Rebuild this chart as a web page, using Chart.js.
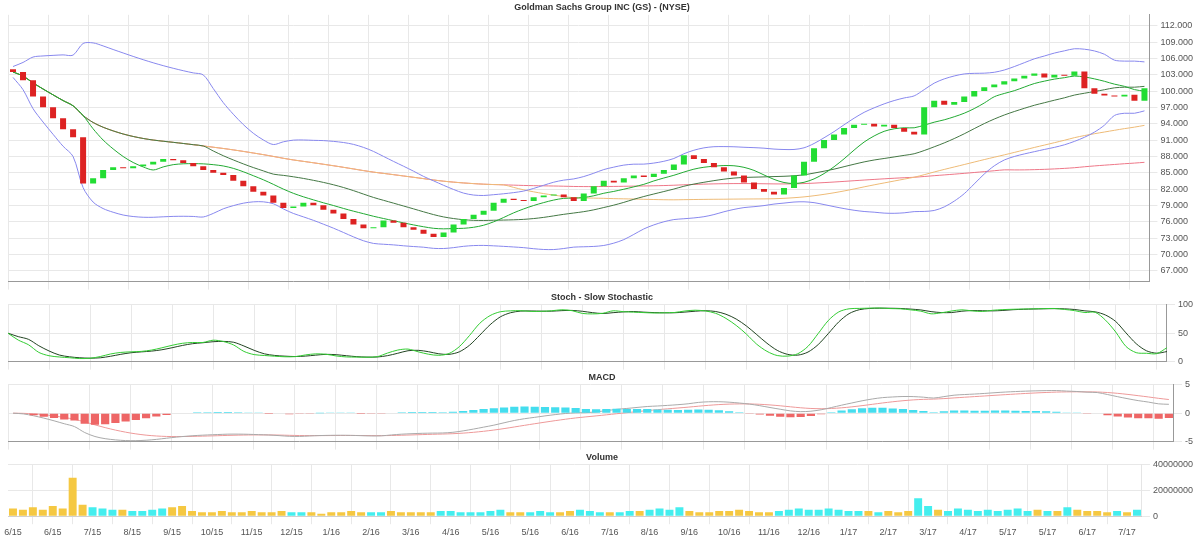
<!DOCTYPE html><html><head><meta charset="utf-8">
<script src="https://cdn.jsdelivr.net/npm/chart.js@4"></script>
<style>body{margin:0;background:#fff;font-family:"DejaVu Sans"}div{position:absolute;left:0;width:1200px}</style></head><body>
<div style="top:0;height:290px"><canvas id="c1"></canvas></div>
<div style="top:290px;height:80px"><canvas id="c2"></canvas></div>
<div style="top:370px;height:80px"><canvas id="c3"></canvas></div>
<div style="top:450px;height:91px"><canvas id="c4"></canvas></div>
<script>
const closes=[103.5,102,99,97,95,93,91.5,83,84,85.5,86,85.8,86.2,86.5,87,87.5,87.3,86.8,86.2,85.5,85,84.6,83.5,82.5,81.5,80.8,79.5,78.5,78.8,79.5,79,78.2,77.5,76.5,75.5,74.8,75,76.2,75.8,75,74.5,73.8,73.2,74,75.5,76.5,77.3,78,79.5,80.2,80,79.8,80.5,80.8,81,80.5,79.8,81.2,82.5,83.5,83.2,84,84.5,84.2,84.8,85.5,86.5,88.2,87.5,86.8,86,85.2,84.5,83.2,82,81.5,81,82.2,84.5,87,89.5,91,92,93.2,93.8,94,93.5,93.8,93.2,92.5,92,97,98.2,97.5,98,99,100,100.7,101.2,101.8,102.3,102.8,103.2,102.5,103,102.8,103.6,100.5,99.5,99.2,99,99.3,98.2,100.5];
const volumes=[6,5,7,5,8,6,30,9,7,6,5,5,4,4,5,6,7,8,4,3,3,4,3,3,4,3,3,4,3,3,3,2,3,3,4,3,3,3,4,3,3,3,3,4,4,3,3,3,4,5,3,3,3,4,3,3,4,5,4,3,3,3,4,4,5,6,5,7,4,3,3,4,4,5,4,3,3,4,5,6,5,5,6,5,4,4,4,3,4,3,4,14,8,5,4,6,5,4,5,4,5,6,4,5,4,4,7,5,4,4,3,4,3,5];
const priceTicks=[112,109,106,103,100,97,94,91,88,85,82,79,76,73,70,67];
const start=new Date(2015,5,1);
const labels=closes.map((_,i)=>{const d=new Date(start.getTime()+i*7*864e5);return (d.getMonth()+1)+'/'+d.getFullYear().toString().slice(2)});
const opens=closes.map((c,i)=>i?closes[i-1]:c+0.5);
const ema=(a,n)=>{let k=2/(n+1),e=a[0];return a.map(v=>e=v*k+e*(1-k));};
const partial=(a,n)=>a.map((_,i)=>{const s=a.slice(Math.max(0,i-n+1),i+1);return s.reduce((x,y)=>x+y,0)/s.length});
const m20=partial(closes,20),m50=partial(closes,50),m100=partial(closes,100),m10=partial(closes,8);
const sd=closes.map((_,i)=>{const s=closes.slice(Math.max(0,i-19),i+1),m=m20[i];return Math.sqrt(s.reduce((x,v)=>x+(v-m)**2,0)/s.length)});
const bu=m20.map((m,i)=>m+2*sd[i]+1),bl=m20.map((m,i)=>m-2*sd[i]-1);
const K=closes.map((c,i)=>{const s=closes.slice(Math.max(0,i-13),i+1);const h=Math.max(...s)+0.8,l=Math.min(...s)-0.8;return (c-l)/(h-l)*100});
const Ks=partial(K,3),Ds=partial(Ks,3);
const e12=ema(closes,12),e26=ema(closes,26),macd=e12.map((v,i)=>v-e26[i]),sig=ema(macd,9),hist=macd.map((v,i)=>v-sig[i]);
const grid={color:'#e8e8e8'},tf={size:9},fmt=v=>v.toFixed(3);
function ax(extra){return {x:{ticks:{display:false,autoSkip:true,maxTicksLimit:30},grid,border:{color:'#999'}},y:Object.assign({position:'right',grid,ticks:{font:tf,color:'#555'},border:{color:'#999'}},extra)};}
const base={responsive:true,maintainAspectRatio:false,animation:false,plugins:{legend:{display:false},title:{display:true,font:{size:9},color:'#333',padding:2}},layout:{padding:{left:8,right:4}}};
const line=(d,c,w=1)=>({type:'line',data:d,borderColor:c,borderWidth:w,pointRadius:0,tension:0.3});
new Chart(c1,{data:{labels,datasets:[
 {type:'bar',data:closes.map((c,i)=>[opens[i],c]),backgroundColor:closes.map((c,i)=>c>=opens[i]?'#22dd33':'#dd2222'),barPercentage:0.6,categoryPercentage:1},
 line(bu,'#8888ee'),line(bl,'#8888ee'),line(m10,'#22aa33'),line(m20,'#447744'),line(m50,'#eebb77'),line(m100,'#ee7788')]},
 options:{...base,plugins:{...base.plugins,title:{...base.plugins.title,text:'Goldman Sachs Group INC (GS) - (NYSE)'}},scales:ax({min:65,max:114,afterBuildTicks:a=>a.ticks=priceTicks.map(v=>({value:v})),ticks:{font:tf,color:'#555',callback:fmt}})}});
new Chart(c2,{data:{labels,datasets:[line(Ks,'#33cc33'),line(Ds,'#224422')]},options:{...base,plugins:{...base.plugins,title:{...base.plugins.title,text:'Stoch - Slow Stochastic'}},scales:ax({min:0,max:100,ticks:{font:tf,color:'#555',stepSize:50}})}});
new Chart(c3,{data:{labels,datasets:[{type:'bar',data:hist,backgroundColor:hist.map(v=>v>=0?'#44ddee':'#ee6666'),barPercentage:0.8,categoryPercentage:1},line(macd,'#aaaaaa'),line(sig,'#ee9999')]},options:{...base,plugins:{...base.plugins,title:{...base.plugins.title,text:'MACD'}},scales:ax({ticks:{font:tf,color:'#555',maxTicksLimit:4}})}});
new Chart(c4,{data:{labels,datasets:[{type:'bar',data:volumes,backgroundColor:closes.map((c,i)=>c>=opens[i]?'#44eeee':'#f5c842'),barPercentage:0.8,categoryPercentage:1}]},options:{...base,plugins:{...base.plugins,title:{...base.plugins.title,text:'Volume'}},scales:{x:{grid,ticks:{font:tf,color:'#555',maxRotation:0,autoSkip:true,maxTicksLimit:30}},y:{position:'right',grid,ticks:{font:tf,color:'#555',maxTicksLimit:3,callback:v=>v*1e6}}}}});
</script></body></html>
